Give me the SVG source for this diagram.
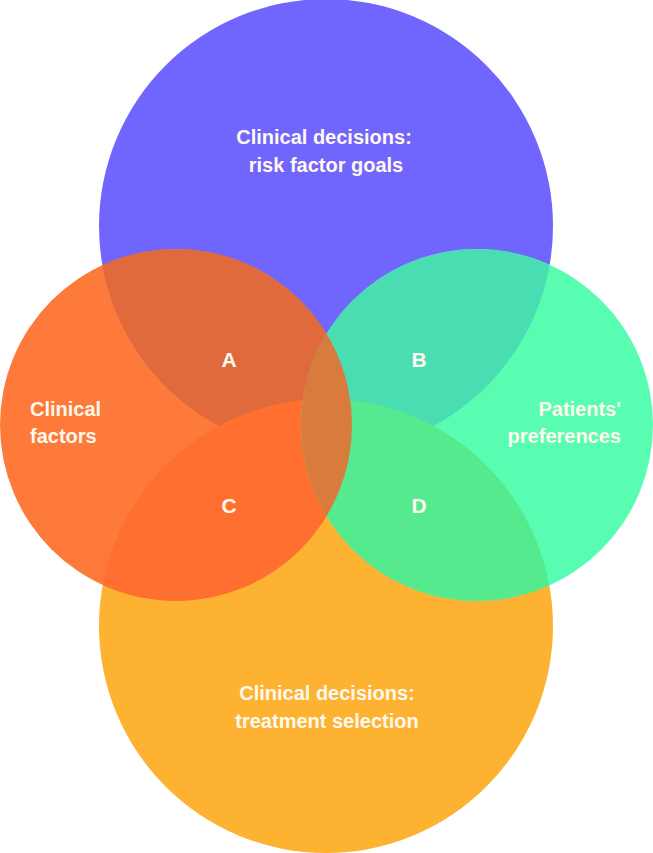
<svg xmlns="http://www.w3.org/2000/svg" width="653" height="853" viewBox="0 0 653 853">
<style>
text{font-family:"Liberation Sans","Noto Sans",Arial,sans-serif;font-weight:bold;font-size:20px;fill:#FFF8EE}
.m{text-anchor:middle}
.e{text-anchor:end}
.big{font-size:21px}
</style>
<defs>
<circle id="cP" cx="326" cy="226" r="227"/>
<circle id="cY" cx="326" cy="626" r="227"/>
<circle id="cL" cx="176" cy="425" r="176"/>
<circle id="cR" cx="477" cy="425" r="176"/>
<clipPath id="clipP"><use href="#cP"/></clipPath>
<clipPath id="clipY"><use href="#cY"/></clipPath>
<clipPath id="clipL"><use href="#cL"/></clipPath>
</defs>
<rect width="653" height="853" fill="#FFFFFF"/>
<g id="risk-factor-goals">
<use href="#cP" fill="#7066FE"/>
<text class="m" x="324" y="144">Clinical decisions:</text>
<text class="m" x="326" y="172">risk factor goals</text>
</g>
<g id="treatment-selection">
<use href="#cY" fill="#FEB232"/>
<text class="m" x="327" y="700">Clinical decisions:</text>
<text class="m" x="327" y="728">treatment selection</text>
</g>
<g id="clinical-factors">
<use href="#cL" fill="#FE7A3A"/>
</g>
<g id="patients-preferences">
<use href="#cR" fill="#58FDB2"/>
</g>
<g id="overlaps">
<g id="region-A"><use href="#cL" clip-path="url(#clipP)" fill="#E06A3C"/></g>
<g id="region-B"><use href="#cR" clip-path="url(#clipP)" fill="#4BDDB2"/></g>
<g id="region-C"><use href="#cL" clip-path="url(#clipY)" fill="#FF7030"/></g>
<g id="region-D"><use href="#cR" clip-path="url(#clipY)" fill="#55EA8E"/></g>
<g id="region-center"><use href="#cR" clip-path="url(#clipL)" fill="#D87B3C"/></g>
</g>
<g id="labels">
<text x="30" y="416">Clinical</text>
<text x="30" y="443">factors</text>
<text class="e" x="621" y="416">Patients'</text>
<text class="e" x="621" y="443">preferences</text>
<text class="m big" x="229" y="367">A</text>
<text class="m big" x="419" y="367">B</text>
<text class="m big" x="229" y="513">C</text>
<text class="m big" x="419" y="513">D</text>
</g>
</svg>
